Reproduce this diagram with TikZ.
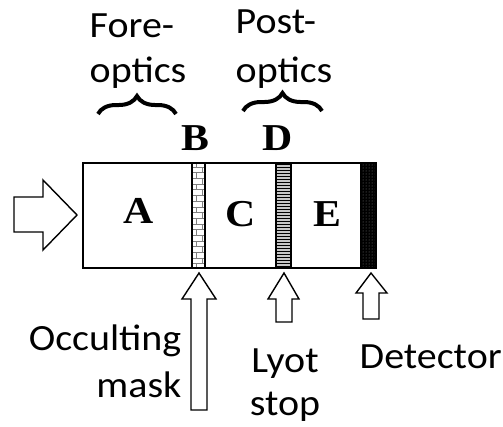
\documentclass[tikz,border=0pt]{standalone}
\usepackage{fontspec}
\setsansfont{Carlito}[FakeStretch=1.08]
\newfontfamily\partfont{Liberation Serif}[FakeStretch=1.1]
\usetikzlibrary{patterns, decorations.pathreplacing}

\begin{document}
\begin{tikzpicture}[x=1pt, y=-1pt, line width=1.4pt,
	lbl/.style={font=\sffamily\fontsize{37}{45}\selectfont, inner sep=0pt},
	part/.style={font=\partfont\bfseries\fontsize{38}{38}\selectfont, inner sep=0pt},
	optbrace/.style={decorate, decoration={brace, amplitude=18pt}, line width=4pt}]
	
	\useasboundingbox (0,0) rectangle (503,426);
	
	% incoming light
	\draw (14,197) -- (43,197) -- (43,180) -- (77,215) -- (43,250) -- (43,232) -- (14,232) -- cycle;
	
	% mask, stop and detector
	\fill[white] (192,163) rectangle (205,268);
	\draw[pattern=bricks, pattern color=gray] (192,163) rectangle (205,268);
	\fill[gray!45] (276,163) rectangle (291,268);
	\draw[pattern=horizontal lines] (276,163) rectangle (291,268);
	\fill[black] (361,163) rectangle (376,268);
	\draw[pattern=dots, pattern color=gray] (361,163) rectangle (376,268);
	\draw (83,163) rectangle (376,268);
	
	\node[part, anchor=base] (A) at (139,223) {A};
	\node[part, anchor=base] (B) at (195,150) {B};
	\node[part, anchor=base] (C) at (241,226) {C};
	\node[part, anchor=base] (D) at (278,150) {D};
	\node[part, anchor=base] (E) at (327,226) {E};
	
	% fore- and post-optics
	\node[lbl, anchor=base west] (fore) at (89,37) {Fore-};
	\node[lbl, anchor=base west] (foreopt) at (89,82) {optics};
	\node[lbl, anchor=base west] (post) at (235,33) {Post-};
	\node[lbl, anchor=base west] (postopt) at (235,82) {optics};
	\draw[optbrace] (98,114) -- (176,114);
	\draw[optbrace] (243,111) -- (322,111);
	
	% pointers from below
	\draw (199,273) -- (216,299) -- (207,299) -- (207,410) -- (191,410) -- (191,299) -- (182,299) -- cycle;
	\draw (284,273) -- (299,299) -- (292,299) -- (292,322) -- (276,322) -- (276,299) -- (268,299) -- cycle;
	\draw (371,273) -- (387,293) -- (379,293) -- (379,319) -- (363,319) -- (363,293) -- (356,293) -- cycle;
	
	\node[lbl, anchor=base east] (occ) at (182,350) {Occulting};
	\node[lbl, anchor=base east] (mask) at (182,397) {mask};
	\node[lbl, anchor=base] (lyot) at (285,372) {Lyot};
	\node[lbl, anchor=base] (stop) at (285,415) {stop};
	\node[lbl, anchor=base west] (det) at (359,368) {Detector};
\end{tikzpicture}
\end{document}
